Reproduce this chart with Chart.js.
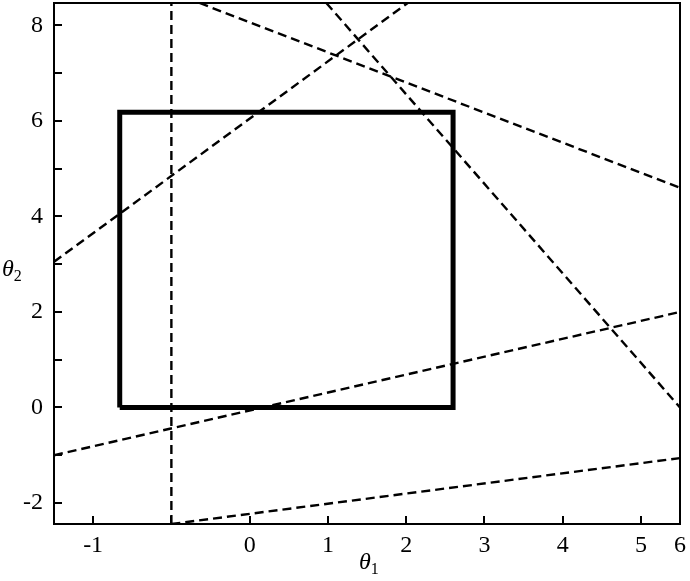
<!DOCTYPE html>
<html>
<head>
<meta charset="utf-8">
<title>theta1 theta2 constraints</title>
<script src="https://cdn.jsdelivr.net/npm/chart.js@4/dist/chart.umd.min.js"></script>
<style>
  html, body { margin: 0; padding: 0; background: #fff; }
  #wrap { position: relative; width: 690px; height: 581px; }
  .axis-title {
    position: absolute;
    font-family: 'Liberation Serif', 'Times New Roman', serif;
    font-size: 24px;
    line-height: 1;
    color: #000;
    white-space: nowrap;
  }
  .axis-title i { font-style: italic; }
  .axis-title sub { font-size: 16px; vertical-align: -5px; line-height: 0; }
</style>
</head>
<body>
<div id="wrap">
  <canvas id="chart" width="690" height="581"></canvas>
  <div class="axis-title" id="title-x" style="left:359px; top:549px;"><i>θ</i><sub>1</sub></div>
  <div class="axis-title" id="title-y" style="left:2px; top:256px;"><i>θ</i><sub>2</sub></div>
</div>
<script>
// axis ranges (x is in tick positions; labels below are what the figure prints)
const xRange = [-2.5, 5.5];
const yRange = [-2.44, 8.47];

const xTickValues = [-2, -1, 0, 1, 2, 3, 4, 5, 5.5];
const xTickLabels = ['-1', '', '0', '1', '2', '3', '4', '5', '6'];
const yTickValues = [-2, -1, 0, 1, 2, 3, 4, 5, 6, 7, 8];
const yTickLabels = ['-2', '', '0', '', '2', '', '4', '', '6', '', '8'];

// solid rectangle (feasible box)
const boxX = [-1.66, -1.66, 2.6, 2.6, -1.66];
const boxY = [0, 6.18, 6.18, 0, 0];

// dashed constraint lines, each given by two end points
const lineVertical = { x: [-1, -1], y: [-2.44, 8.47] };
const lineRising   = { x: [-2.5, 2.02], y: [3.05, 8.47] };
const lineShallow  = { x: [-0.64, 5.5], y: [8.47, 4.6] };
const lineSteep    = { x: [0.98, 5.5], y: [8.47, 0.0] };
const lineMid      = { x: [-2.5, 5.5], y: [-1.0, 2.0] };
const lineLow      = { x: [-1, 5.5], y: [-2.44, -1.06] };

const dashedLines = [lineVertical, lineRising, lineShallow, lineSteep, lineMid, lineLow];

const toPoints = (xs, ys) => xs.map((x, i) => ({ x, y: ys[i] }));

const datasets = [
  {
    data: toPoints(boxX, boxY),
    borderColor: '#000',
    borderWidth: 5,
    borderJoinStyle: 'miter',
    showLine: true,
    pointRadius: 0,
    tension: 0
  }
];
dashedLines.forEach(l => {
  datasets.push({
    data: toPoints(l.x, l.y),
    borderColor: '#000',
    borderWidth: 2.4,
    borderDash: [9, 5],
    showLine: true,
    pointRadius: 0,
    tension: 0
  });
});

// frame on all four sides of the plot area
const framePlugin = {
  id: 'frame',
  afterDraw(chart) {
    const { ctx, chartArea: a } = chart;
    ctx.save();
    ctx.strokeStyle = '#000';
    ctx.lineWidth = 2;
    ctx.strokeRect(a.left, a.top, a.right - a.left, a.bottom - a.top);
    ctx.restore();
  }
};

// keep the plot area where the figure has it: no automatic label padding
function noPad(s) {
  s.paddingTop = 0;
  s.paddingBottom = 0;
  s.paddingLeft = 0;
  s.paddingRight = 0;
}

const tickFont = { family: "'Liberation Serif', 'Times New Roman', serif", size: 24 };

new Chart(document.getElementById('chart'), {
  type: 'scatter',
  data: { datasets },
  options: {
    responsive: false,
    animation: false,
    layout: { padding: { top: 3, right: 10, left: 0, bottom: 0 } },
    plugins: { legend: { display: false }, tooltip: { enabled: false } },
    scales: {
      x: {
        type: 'linear',
        min: xRange[0],
        max: xRange[1],
        afterBuildTicks: s => { s.ticks = xTickValues.map(v => ({ value: v })); },
        afterFit: s => { s.height = 57; noPad(s); },
        ticks: {
          autoSkip: false,
          maxRotation: 0,
          padding: 15,
          color: '#000',
          font: tickFont,
          callback: (v, i) => xTickLabels[i]
        },
        grid: { drawOnChartArea: false, drawTicks: true, tickLength: -8, color: '#000', lineWidth: 2 },
        border: { display: false }
      },
      y: {
        type: 'linear',
        min: yRange[0],
        max: yRange[1],
        afterBuildTicks: s => { s.ticks = yTickValues.map(v => ({ value: v })); },
        afterFit: s => { s.width = 54; noPad(s); },
        ticks: {
          autoSkip: false,
          padding: 19,
          color: '#000',
          font: tickFont,
          callback: (v, i) => yTickLabels[i]
        },
        grid: { drawOnChartArea: false, drawTicks: true, tickLength: -8, color: '#000', lineWidth: 2 },
        border: { display: false }
      }
    }
  },
  plugins: [framePlugin]
});
</script>
</body>
</html>
